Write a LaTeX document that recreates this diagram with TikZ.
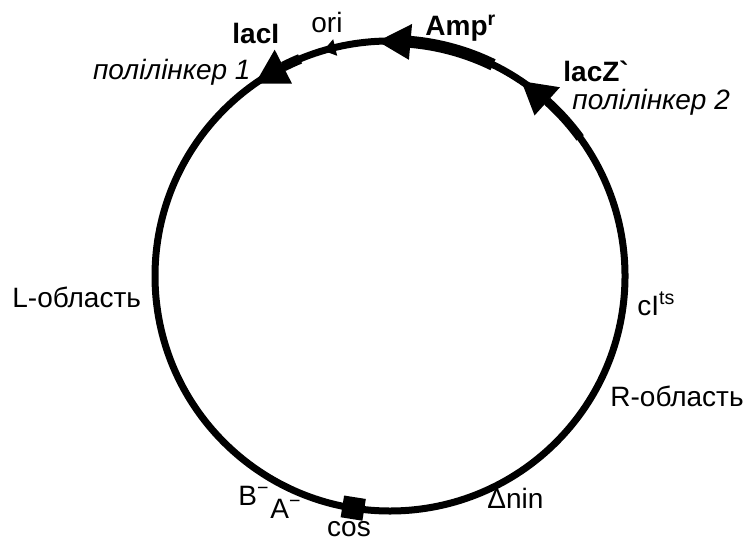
\documentclass[tikz,border=0pt]{standalone}
\usepackage{fontspec}
\setmainfont{Liberation Sans}
\usepackage{tikz}
\usetikzlibrary{positioning}

\begin{document}
\begin{tikzpicture}[x=0.5pt,y=0.5pt,
  lbl/.style={inner sep=0pt,font=\fontsize{14}{16}\selectfont},
  gene/.style={inner sep=0pt,font=\fontsize{14}{16}\selectfont\bfseries},
  site/.style={inner sep=0pt,font=\fontsize{14}{16}\selectfont\itshape}]
%  \draw[step=20,gray,very thin] (0,0) grid (747,541);
\useasboundingbox (0,0) rectangle (747,541);

\begin{scope}[shift={(390,265)}]
% the ring
\draw[line width=3.5pt] (0,0) circle [radius=235];

% Amp^r
\draw[line width=6pt] (64:235) arc [start angle=64,end angle=85,radius=235];
\fill (93:235) -- (85:217) -- (85:253) -- cycle;

% lacZ`
\draw[line width=4.5pt] (36:235) arc [start angle=36,end angle=48,radius=235];
\fill (56:235) -- (48:216) -- (48:254) -- cycle;

% ori
\fill (106.5:235) -- (103.5:226.5) -- (103.5:243.5) -- cycle;

% lacI
\draw[line width=5pt] (112.5:235) arc [start angle=112.5,end angle=117,radius=235];
\fill (125:235) -- (117:216) -- (117:254) -- cycle;

% cos site
\node[fill,inner sep=0pt,minimum size=11pt,rotate=-9] (cosbox) at (-99:235) {};
\end{scope}

\node[gene,anchor=base west] (amp) at (425,505) {Amp\textsuperscript{r}};
\node[lbl,anchor=base west] (ori) at (311,508) {ori};
\node[gene,anchor=base west] (laci) at (232,497) {lacI};
\node[site,anchor=base east] (poly1) at (251,461) {полілінкер 1};
\node[gene,anchor=base west] (lacz) at (563,459) {lacZ\textasciigrave};
\node[site,anchor=base west] (poly2) at (572,431) {полілінкер 2};

\node[lbl,anchor=base west] (lreg) at (12,234) {L-область};
\node[lbl,anchor=base west] (cits) at (637,226) {cI\textsuperscript{ts}};
\node[lbl,anchor=base west] (rreg) at (610,135) {R-область};

\node[lbl,anchor=base west] (bmin) at (238,36) {B\textsuperscript{−}};
\node[lbl,anchor=base west] (amin) at (270,23) {A\textsuperscript{−}};
\node[lbl,anchor=base] (cos) at (349,5) {cos};
\node[lbl,anchor=base west] (nin) at (487,33) {Δnin};

\end{tikzpicture}
\end{document}
